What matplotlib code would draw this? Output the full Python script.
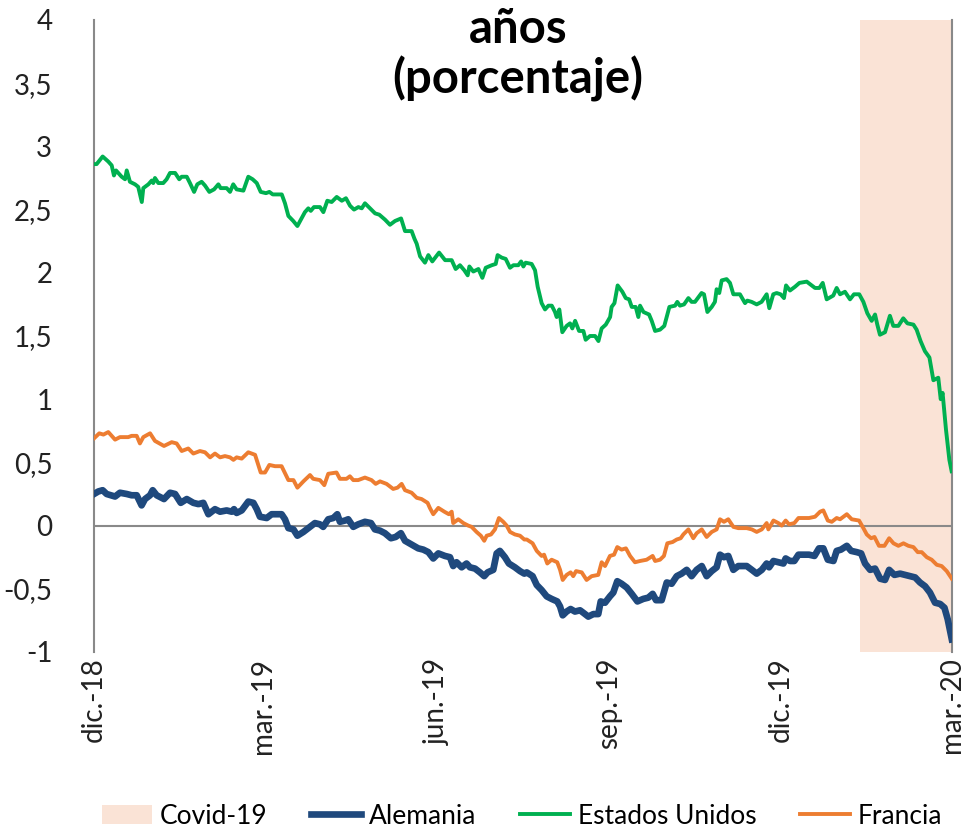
import matplotlib
matplotlib.use("Agg")
import matplotlib.pyplot as plt
from matplotlib.patches import Patch
from matplotlib.lines import Line2D
from matplotlib.ticker import FuncFormatter, MultipleLocator
import pandas as pd

# days since 2018-12-01 and yields (%)
us_days = [0, 1.4, 4.6, 7.6, 9.4, 10.6, 11.7, 14.7, 16.5, 17.4, 19.1, 21.8, 23.5, 25.4, 26.2, 28.9, 30.7, 31.5,
           32.4, 34.2, 36.8, 38.6, 40.4, 43.1, 45.3, 46.6, 49.3, 51.0, 53.2, 54.9, 57.2, 59.0, 61.3, 63.8, 66.1,
           67.3, 70.5, 72.3, 74.0, 75.8, 79.4, 82.0, 84.3, 86.5, 88.6, 91.4, 93.2, 95.0, 97.1, 99.8, 101.5, 103.3,
           105.9, 108.1, 109.9, 112.1, 113.9, 115.2, 116.9, 120.1, 121.9, 124.0, 126.3, 129.0, 131.7, 133.9, 136.1,
           138.2, 140.5, 142.3, 144.0, 146.7, 149.4, 151.6,
           154.7, 157.3, 160.0, 163.2, 165.3, 168.8, 170.3, 171.5, 173.3, 175.9, 177.7, 179.8, 183.4, 186.6, 190.1,
           192.2, 194.5, 196.8, 198.6, 199.5, 201.6, 204.3, 206.4, 208.2, 211.4, 213.5, 214.5, 216.7, 218.8, 221.1,
           222.9, 225.5, 227.0, 228.2, 229.4, 232.6, 234.4, 235.8, 237.9, 239.7, 241.5, 243.3, 245.0, 245.9, 247.3,
           248.9, 251.2, 253.0, 254.2, 255.7, 257.8, 260.1, 261.3, 263.6, 266.3, 268.1, 269.8, 272.0, 274.3, 275.1,
           276.6, 278.3, 280.8, 282.6, 284.4, 285.8, 287.9, 289.3, 290.2, 292.0, 295.0, 296.4, 298.2, 300.8, 303.1,
           305.8, 308.8, 310.0, 311.4, 313.6, 315.9, 317.6, 319.4, 322.9, 324.2, 326.0, 328.3, 330.0, 330.9, 332.3,
           333.6, 336.2, 338.0, 339.8, 343.3, 346.0, 347.2, 349.5, 352.2, 354.8, 357.5, 358.9, 361.0, 362.8, 364.9,
           366.7, 367.8, 369.9, 372.6, 374.9, 378.8, 381.4, 383.2, 385.5, 387.3, 389.4, 392.9, 394.7, 396.5, 399.1,
           401.8, 403.9, 406.7, 408.9, 411.0, 413.3, 415.1, 416.3, 417.7, 420.4, 423.0, 424.8, 427.5, 430.1, 432.3,
           435.5, 437.2, 439.3, 441.6, 444.0, 446.1, 448.7, 450.0, 451.0, 452.8, 454.6, 455.8]
us_vals = [2.86, 2.86, 2.92, 2.88, 2.85, 2.77, 2.81, 2.76, 2.74, 2.81, 2.72, 2.70, 2.68, 2.56, 2.67, 2.70, 2.73, 2.71,
           2.75, 2.71, 2.71, 2.74, 2.79, 2.79, 2.74, 2.76, 2.76, 2.71, 2.64, 2.70, 2.72, 2.69, 2.64, 2.66, 2.70,
           2.67, 2.67, 2.64, 2.70, 2.66, 2.65, 2.76, 2.74, 2.71, 2.64, 2.63, 2.64, 2.62, 2.62, 2.62, 2.55, 2.45,
           2.41, 2.37, 2.42, 2.48, 2.51, 2.49, 2.52, 2.52, 2.48, 2.57, 2.56, 2.60, 2.57, 2.59, 2.53, 2.50, 2.52,
           2.51, 2.55, 2.51, 2.47, 2.46,
           2.42, 2.38, 2.41, 2.43, 2.33, 2.33, 2.27, 2.23, 2.13, 2.08, 2.14, 2.09, 2.16, 2.10, 2.10,
           2.03, 2.06, 2.02, 1.98, 2.05, 2.01, 2.03, 1.96, 2.04, 2.06, 2.07, 2.14, 2.12, 2.11, 2.04,
           2.06, 2.06, 2.09, 2.05, 2.08, 2.07, 2.02, 1.89, 1.76, 1.71, 1.74, 1.74, 1.69, 1.65, 1.71,
           1.53, 1.58, 1.60, 1.56, 1.62, 1.54, 1.54, 1.47, 1.50, 1.50, 1.46, 1.56, 1.59, 1.65, 1.73,
           1.76, 1.90, 1.85, 1.80, 1.79, 1.73, 1.73, 1.65, 1.74, 1.69, 1.67, 1.62, 1.54, 1.55, 1.58,
           1.73, 1.74, 1.77, 1.74, 1.75, 1.80, 1.77, 1.77, 1.84, 1.83, 1.69, 1.73, 1.77, 1.87, 1.84,
           1.94, 1.95, 1.92, 1.83, 1.83, 1.76, 1.78, 1.77, 1.75, 1.77, 1.83, 1.72, 1.83, 1.84, 1.83,
           1.80, 1.90, 1.86, 1.89, 1.92, 1.93, 1.90, 1.88, 1.88, 1.92, 1.79, 1.82, 1.88, 1.83, 1.85,
           1.79, 1.83, 1.83, 1.77, 1.68, 1.62, 1.67, 1.59, 1.51, 1.53, 1.66, 1.58, 1.58, 1.64, 1.60,
           1.59, 1.55, 1.46, 1.38, 1.33, 1.15, 1.17, 1.00, 1.05, 0.76, 0.52, 0.43]

fr_days = [0, 2.8, 5.0, 7.6, 11.2, 13.8, 18.2, 20.0, 22.7, 24.4, 26.2, 29.8, 32.4, 37.2, 41.3, 43.9, 46.6, 50.1,
           52.8, 56.3, 59.0, 61.7, 64.3, 67.0, 69.6, 72.3, 74.1, 75.8, 78.5, 82.0, 85.6, 88.6, 90.9, 93.2, 96.2,
           99.7, 103.3, 106.0, 108.1, 111.3,
           114.8, 116.5, 120.1, 122.4, 124.5, 128.9, 130.7, 134.2, 136.0, 137.8, 140.4, 144.0, 147.5, 149.7, 152.0,
           155.5, 159.0, 161.3, 163.5, 165.3, 168.8, 171.5, 174.1, 177.3, 178.5, 180.3, 183.0, 186.2, 188.6, 190.1,
           190.9, 193.6, 196.3, 198.9, 200.7, 203.3, 205.6, 207.4, 208.7, 211.0, 213.1, 215.2, 217.5, 219.3, 221.1,
           223.7, 226.4, 228.7,
           230.0, 233.1, 235.3, 237.9, 239.2, 240.9, 243.2, 246.2, 247.7, 249.1, 251.2, 253.3, 254.7, 256.2, 259.2,
           261.8, 264.5, 268.0, 269.8, 271.6, 274.2, 276.4, 278.1, 280.4, 282.7, 284.9, 287.5, 290.2, 293.7, 296.9,
           298.2, 300.8, 302.9, 304.7, 307.5, 309.7, 311.8, 313.2, 315.9, 318.5, 320.3, 323.0, 325.6, 328.3, 330.9,
           332.7, 334.8, 337.1, 339.8, 342.4,
           346.9, 349.6, 352.2, 354.9, 357.5, 358.4, 361.1, 363.7, 365.5, 367.6, 369.4, 372.2, 374.4, 377.0, 380.0,
           383.2, 385.9, 387.6, 390.0, 392.1, 394.7, 396.5, 400.1, 402.7, 406.6, 408.9, 410.7, 413.0, 414.8, 417.2,
           420.1, 422.6, 424.9, 427.5, 430.2, 432.8, 435.5, 437.8, 439.9, 442.6, 445.2, 447.9, 450.5, 453.2, 455.9]
fr_vals = [0.69, 0.73, 0.72, 0.74, 0.68, 0.70, 0.70, 0.71, 0.71, 0.65, 0.70, 0.73, 0.67, 0.63, 0.66, 0.65, 0.59, 0.61,
           0.57, 0.59, 0.58, 0.54, 0.57, 0.54, 0.55, 0.54, 0.52, 0.54, 0.53, 0.58, 0.56, 0.42, 0.42, 0.48, 0.47,
           0.47, 0.36, 0.36, 0.30, 0.35,
           0.40, 0.37, 0.36, 0.32, 0.41, 0.42, 0.37, 0.37, 0.39, 0.36, 0.36, 0.38, 0.36, 0.33, 0.35,
           0.33, 0.29, 0.30, 0.33, 0.28, 0.26, 0.22, 0.21, 0.18, 0.14, 0.09, 0.14, 0.11, 0.09, 0.11,
           0.02, 0.05, 0.02, 0.00, -0.01, -0.05, -0.08, -0.12, -0.08, -0.07, -0.03, 0.06, 0.03, 0.00, -0.05,
           -0.07, -0.08, -0.11,
           -0.11, -0.14, -0.20, -0.24, -0.23, -0.30, -0.27, -0.29, -0.35, -0.43, -0.39, -0.37, -0.40, -0.36, -0.37,
           -0.43, -0.40, -0.39, -0.29, -0.32, -0.24, -0.23, -0.17, -0.19, -0.18, -0.24, -0.29, -0.28, -0.27, -0.24,
           -0.28, -0.27, -0.24, -0.14, -0.13, -0.11, -0.10, -0.07, -0.03, -0.10, -0.06, -0.03, -0.09, -0.05, -0.03,
           0.05, 0.03, 0.05, -0.01, -0.02,
           -0.02, -0.03, -0.05, -0.03, 0.02, -0.03, 0.04, 0.02, 0.00, 0.04, 0.01, 0.02, 0.06, 0.06, 0.06,
           0.07, 0.11, 0.12, 0.04, 0.03, 0.06, 0.05, 0.09, 0.05, 0.04, -0.02, -0.07, -0.10, -0.09, -0.16,
           -0.16, -0.10, -0.14, -0.16, -0.14, -0.16, -0.17, -0.21, -0.21, -0.25, -0.27, -0.31, -0.32, -0.36, -0.42]

de_days = [0, 2.3, 4.6, 6.7, 11.2, 13.8, 17.4, 20.0, 22.7, 25.3, 27.1, 29.8, 31.2, 33.3, 37.2, 40.4, 43.1, 46.1,
           49.3, 52.8, 55.5, 58.1, 60.8, 64.3, 67.0, 70.5, 73.2, 74.4, 75.8, 78.5, 82.0, 84.7, 86.5, 88.2, 91.8,
           94.4, 97.1, 99.7, 101.5, 103.3, 106.0, 108.1, 111.3,
           114.8, 117.4, 120.1, 121.8, 124.5, 127.2, 129.3, 130.7, 133.4, 135.1, 137.8, 140.4, 144.0, 147.2, 149.3,
           152.0, 154.6, 157.8, 160.3, 163.1, 165.3, 168.8, 172.3, 175.0, 177.7, 180.3, 183.0, 186.5, 189.2, 190.9,
           192.7, 195.4, 198.0, 199.8, 202.5, 205.1, 207.4, 209.2, 212.2, 214.0, 215.7, 218.4, 220.5, 223.7, 226.4,
           228.7,
           230.0, 233.1, 235.3, 237.9, 240.6, 243.2, 246.2, 247.7, 249.1, 251.2, 253.3, 255.6, 258.3, 260.1, 262.7,
           265.4, 268.0, 269.3, 271.6, 274.2, 276.0, 278.1, 280.4, 283.1, 285.8, 288.8, 291.9, 294.6, 296.9, 298.7,
           301.7, 304.4, 307.0, 309.7, 312.3, 315.0, 317.6, 320.3, 323.0, 325.6, 328.3, 330.9, 332.7, 334.8, 337.1,
           339.8, 342.4,
           346.9, 349.6, 352.2, 354.9, 357.5, 358.8, 361.1, 363.7, 366.4, 367.6, 369.9, 372.2, 374.4, 377.0, 380.0,
           382.9, 385.3, 387.6, 390.0, 393.0, 394.7, 397.0, 400.1, 402.4, 405.4, 407.7, 409.8, 412.5, 415.1, 417.8,
           420.4, 422.6, 425.4, 428.4, 431.1, 433.7, 436.4, 439.0, 441.7, 444.3, 447.0, 449.7, 452.0, 453.7, 455.9]
de_vals = [0.25, 0.27, 0.28, 0.25, 0.23, 0.26, 0.25, 0.24, 0.24, 0.16, 0.21, 0.24, 0.28, 0.24, 0.21, 0.26, 0.25, 0.18,
           0.21, 0.18, 0.17, 0.18, 0.09, 0.13, 0.11, 0.12, 0.11, 0.13, 0.10, 0.12, 0.19, 0.18, 0.13, 0.07, 0.06,
           0.09, 0.09, 0.09, 0.05, -0.02, -0.03, -0.08, -0.05,
           -0.01, 0.02, 0.01, -0.01, 0.05, 0.06, 0.09, 0.03, 0.04, 0.05, -0.01, 0.01, 0.03, 0.02, -0.03,
           -0.04, -0.06, -0.10, -0.09, -0.06, -0.12, -0.15, -0.18, -0.19, -0.21, -0.26, -0.22, -0.24, -0.25, -0.32,
           -0.29, -0.33, -0.30, -0.33, -0.34, -0.37, -0.40, -0.37, -0.35, -0.22, -0.20, -0.25, -0.30, -0.33, -0.36,
           -0.38,
           -0.37, -0.40, -0.47, -0.51, -0.56, -0.58, -0.60, -0.64, -0.71, -0.68, -0.66, -0.68, -0.67, -0.69, -0.72,
           -0.70, -0.70, -0.60, -0.61, -0.56, -0.53, -0.44, -0.46, -0.49, -0.54, -0.60, -0.58, -0.57, -0.54, -0.59,
           -0.59, -0.45, -0.46, -0.40, -0.38, -0.35, -0.40, -0.35, -0.32, -0.40, -0.36, -0.33, -0.23, -0.25, -0.24,
           -0.35, -0.32,
           -0.32, -0.35, -0.38, -0.35, -0.30, -0.33, -0.28, -0.29, -0.30, -0.26, -0.28, -0.28, -0.23, -0.23, -0.23,
           -0.24, -0.18, -0.18, -0.27, -0.28, -0.20, -0.19, -0.16, -0.20, -0.21, -0.22, -0.30, -0.35, -0.34, -0.42,
           -0.43, -0.35, -0.39, -0.38, -0.39, -0.40, -0.41, -0.45, -0.48, -0.53, -0.61, -0.62, -0.65, -0.74, -0.90]

covid_start_day = 407.1
tick_labels = ["dic.-18", "mar.-19", "jun.-19", "sep.-19", "dic.-19", "mar.-20"]
tick_dates = ["2018-12-01", "2019-03-01", "2019-06-01", "2019-09-01", "2019-12-01", "2020-03-01"]
legend_labels = ["Covid-19", "Alemania", "Estados Unidos", "Francia"]

base = pd.Timestamp("2018-12-01")


def to_dates(days):
    return [base + pd.Timedelta(days=d) for d in days]


C_DE = "#1F497D"
C_US = "#00B050"
C_FR = "#ED7D31"
C_COVID = "#FAE3D6"
C_AXIS = "#898989"
FONT = ["Lato", "DejaVu Sans"]

fig = plt.figure(figsize=(9.67, 8.35), dpi=100)
ax = fig.add_axes([94 / 967, 1 - 652 / 835, (952 - 94) / 967, (652 - 20) / 835])

ax.axvspan(base + pd.Timedelta(days=covid_start_day), pd.Timestamp(tick_dates[-1]),
           color=C_COVID, lw=0, zorder=0)
ax.axhline(0, color=C_AXIS, lw=1.5, zorder=1)
ax.plot(to_dates(fr_days), fr_vals, color=C_FR, lw=2.8, zorder=3)
ax.plot(to_dates(us_days), us_vals, color=C_US, lw=2.8, zorder=3)
ax.plot(to_dates(de_days), de_vals, color=C_DE, lw=4.8, zorder=4)

ax.set_xlim(pd.Timestamp(tick_dates[0]), pd.Timestamp(tick_dates[-1]))
ax.set_ylim(-1, 4)
ax.yaxis.set_major_locator(MultipleLocator(0.5))
ax.yaxis.set_major_formatter(FuncFormatter(lambda v, p: f"{v:g}".replace(".", ",").replace("\u2212", "-")))
ax.set_xticks([pd.Timestamp(d) for d in tick_dates])
ax.set_xticklabels(tick_labels, rotation=90, va="top", ha="center")

for s in ["top", "bottom"]:
    ax.spines[s].set_visible(False)
for s in ["left", "right"]:
    ax.spines[s].set_color(C_AXIS)
    ax.spines[s].set_linewidth(1.5)

ax.tick_params(axis="y", length=0, pad=30, labelsize=20, labelcolor="#222222")
ax.tick_params(axis="x", length=0, pad=4, labelsize=20, labelcolor="#222222")
for lab in ax.get_xticklabels() + ax.get_yticklabels():
    lab.set_family(FONT)

fig.text(518 / 967, 1 - 7 / 835, "años\n(porcentaje)", ha="center", va="top",
         fontsize=34, fontweight="bold", family=FONT, linespacing=1.12)

handles = [
    Patch(facecolor=C_COVID, edgecolor="none"),
    Line2D([], [], color=C_DE, lw=4.8),
    Line2D([], [], color=C_US, lw=2.8),
    Line2D([], [], color=C_FR, lw=2.8),
]
fig.legend(handles, legend_labels, loc="center", bbox_to_anchor=(522 / 967, 1 - 816 / 835), ncol=4,
           frameon=False, handlelength=1.9, handletextpad=0.3, columnspacing=1.65,
           prop={"family": FONT, "size": 19})

fig.savefig("out.png", dpi=100)
